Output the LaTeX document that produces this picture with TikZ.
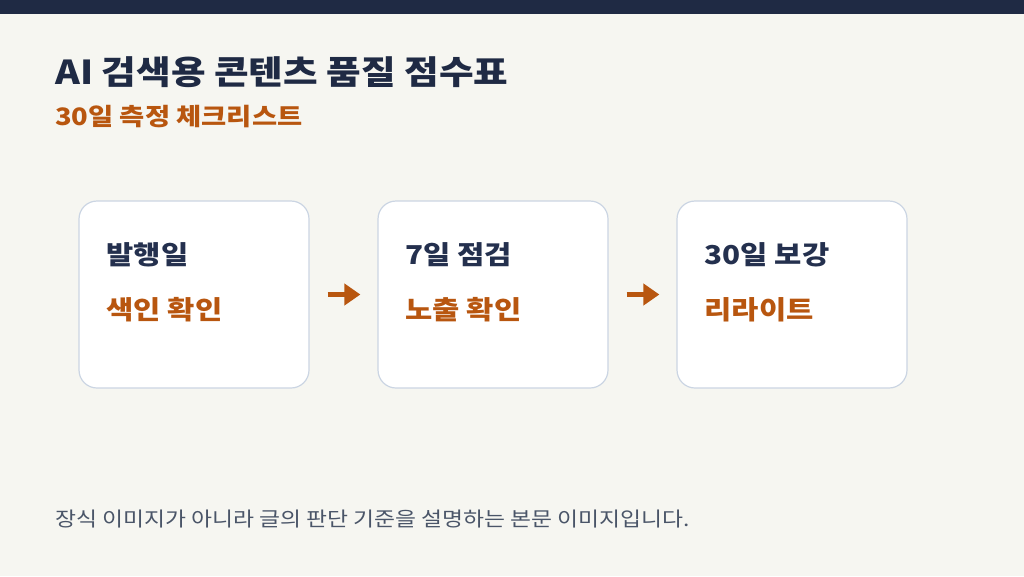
\documentclass[tikz,border=0pt]{standalone}
\usepackage{fontspec}
\setmainfont{Noto Sans CJK KR}[FakeStretch=1.14]
\usepackage{xcolor}
\usetikzlibrary{arrows.meta,positioning,calc}
\definecolor{navy}{HTML}{1F2A44}
\definecolor{boxnavy}{HTML}{24304E}
\definecolor{rust}{HTML}{B8560F}
\definecolor{paper}{HTML}{F6F6F1}
\definecolor{edge}{HTML}{CBD5E3}
\definecolor{note}{HTML}{4A5568}
\tikzset{
  stage/.style={draw=edge, fill=white, line width=1.2pt, rounded corners=18pt,
                minimum width=230pt, minimum height=187pt, inner sep=0pt},
  stagehead/.style={font=\fontsize{26}{30}\selectfont\bfseries, text=boxnavy,
                    anchor=west, inner sep=0pt},
  stagetask/.style={font=\fontsize{26}{30}\selectfont\bfseries, text=rust,
                    anchor=west, inner sep=0pt},
  flow/.style={-{Triangle[length=16pt,width=21pt]}, draw=rust, line width=5pt,
               shorten <=18pt, shorten >=17pt},
}
\begin{document}
\begin{tikzpicture}[x=1pt,y=-1pt]
  % page and top bar
  \fill[paper] (0,0) rectangle (1024,576);
  \fill[navy] (0,0) rectangle (1024,14);
  \useasboundingbox (0,0) rectangle (1024,576);
  % titles
  \node[font=\fontsize{33}{38}\selectfont\bfseries, text=navy, anchor=west, inner sep=0pt]
    (title) at (55,72) {AI 검색용 콘텐츠 품질 점수표};
  \node[font=\fontsize{24}{28}\selectfont\bfseries, text=rust, anchor=west, inner sep=0pt]
    (subtitle) at (55,117) {30일 측정 체크리스트};
  % stages
  \node[stage] (publish) at (194,294.5) {};
  \node[stage] (week) at (493,294.5) {};
  \node[stage] (month) at (792,294.5) {};
  \node[stagehead] (publishhead) at ($(publish.west)+(28,-40)$) {발행일};
  \node[stagetask] (publishtask) at ($(publish.west)+(28,15)$) {색인 확인};
  \node[stagehead] (weekhead) at ($(week.west)+(28,-40)$) {7일 점검};
  \node[stagetask] (weektask) at ($(week.west)+(28,15)$) {노출 확인};
  \node[stagehead] (monthhead) at ($(month.west)+(28,-40)$) {30일 보강};
  \node[stagetask] (monthtask) at ($(month.west)+(28,15)$) {리라이트};
  % arrows
  \draw[flow] (publish) -- (week);
  \draw[flow] (week) -- (month);
  % footnote
  \node[font=\fontsize{20}{24}\selectfont, text=note, anchor=west, inner sep=0pt]
    (footnote) at (55,519) {장식 이미지가 아니라 글의 판단 기준을 설명하는 본문 이미지입니다.};
\end{tikzpicture}
\end{document}
